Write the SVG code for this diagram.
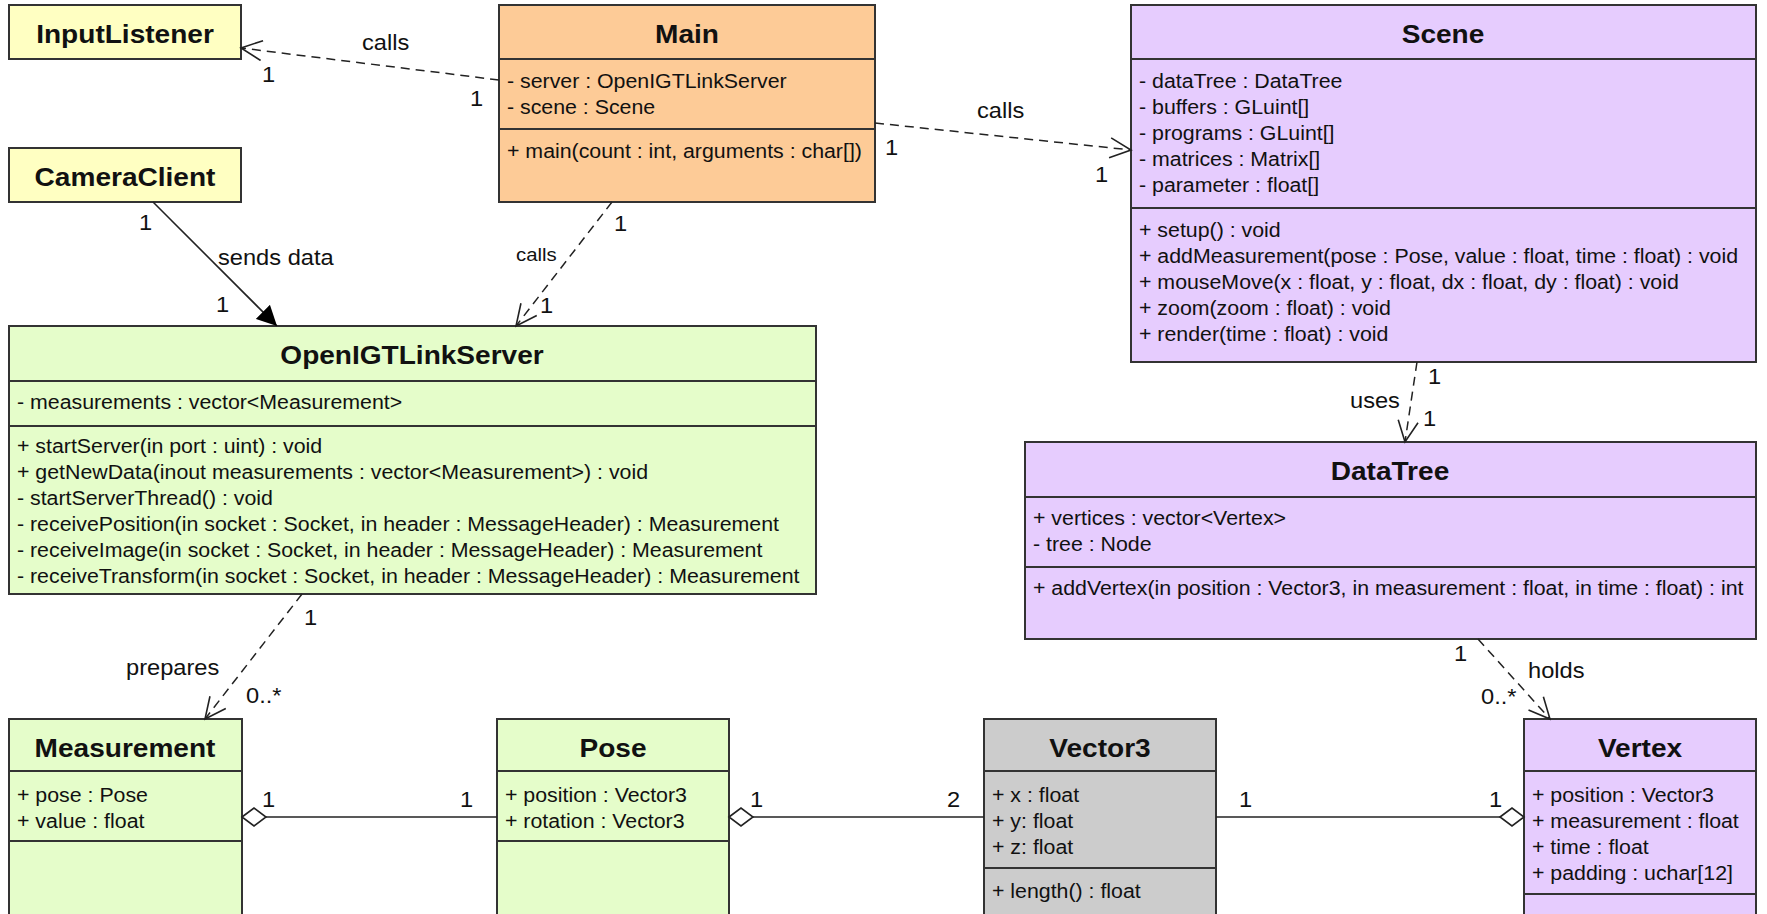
<svg xmlns="http://www.w3.org/2000/svg" width="1767" height="914" viewBox="0 0 1767 914">
<style>
text{font-family:"Liberation Sans",Arial,Helvetica,sans-serif;fill:#111}
.box{stroke:#333;stroke-width:2}
.sep{stroke:#333;stroke-width:2}
.yel{fill:#FFFFC2}
.org{fill:#FDCB97}
.lav{fill:#E6CCFE}
.grn{fill:#E5FDCA}
.gry{fill:#CCCCCC}
.t{font-size:25.5px;font-weight:bold;text-anchor:middle}
.a{font-size:19.4px}
.l{font-size:21.5px}
.ls{font-size:18.5px}
.dash{stroke:#222;stroke-width:1.5;stroke-dasharray:9 6;fill:none}
.solid{stroke:#222;stroke-width:1.6;fill:none}
.dia{fill:#fff;stroke:#222;stroke-width:1.6}
</style>
<defs>
<marker id="open" viewBox="0 0 24 22" refX="22" refY="11" markerWidth="24" markerHeight="22" orient="auto" markerUnits="userSpaceOnUse">
<path d="M1,1 L22,11 L1,21" fill="none" stroke="#222" stroke-width="1.6"/>
</marker>
<marker id="filled" viewBox="0 0 20 20" refX="20" refY="10" markerWidth="20" markerHeight="20" orient="auto" markerUnits="userSpaceOnUse">
<path d="M0,0 L20,10 L0,20 Z" fill="#000"/>
</marker>
</defs>
<rect width="1767" height="914" fill="#fff"/>

<g id="InputListener">
<rect class="box yel" x="9" y="5" width="232" height="54"/>
<text class="t" transform="matrix(1.1 0 0 1 125 43)">InputListener</text>
</g>

<g id="CameraClient">
<rect class="box yel" x="9" y="148" width="232" height="54"/>
<text class="t" transform="matrix(1.1 0 0 1 125 186)">CameraClient</text>
</g>

<g id="Main">
<rect class="box org" x="499" y="5" width="376" height="197"/>
<line class="sep" x1="499" y1="59" x2="875" y2="59"/>
<line class="sep" x1="499" y1="129" x2="875" y2="129"/>
<text class="t" transform="matrix(1.1 0 0 1 687 43)">Main</text>
<text class="a" transform="matrix(1.1 0 0 1 507 0)"><tspan x="0" y="88">- server : OpenIGTLinkServer</tspan><tspan x="0" y="114">- scene : Scene</tspan><tspan x="0" y="158">+ main(count : int, arguments : char[])</tspan></text>
</g>

<g id="Scene">
<rect class="box lav" x="1131" y="5" width="625" height="357"/>
<line class="sep" x1="1131" y1="59" x2="1756" y2="59"/>
<line class="sep" x1="1131" y1="208" x2="1756" y2="208"/>
<text class="t" transform="matrix(1.1 0 0 1 1443 43)">Scene</text>
<text class="a" transform="matrix(1.1 0 0 1 1139 0)"><tspan x="0" y="88">- dataTree : DataTree</tspan><tspan x="0" y="114">- buffers : GLuint[]</tspan><tspan x="0" y="140">- programs : GLuint[]</tspan><tspan x="0" y="166">- matrices : Matrix[]</tspan><tspan x="0" y="192">- parameter : float[]</tspan><tspan x="0" y="237">+ setup() : void</tspan><tspan x="0" y="263">+ addMeasurement(pose : Pose, value : float, time : float) : void</tspan><tspan x="0" y="289">+ mouseMove(x : float, y : float, dx : float, dy : float) : void</tspan><tspan x="0" y="315">+ zoom(zoom : float) : void</tspan><tspan x="0" y="341">+ render(time : float) : void</tspan></text>
</g>

<g id="OpenIGTLinkServer">
<rect class="box grn" x="9" y="326" width="807" height="268"/>
<line class="sep" x1="9" y1="381" x2="816" y2="381"/>
<line class="sep" x1="9" y1="426" x2="816" y2="426"/>
<text class="t" transform="matrix(1.1 0 0 1 412 364)">OpenIGTLinkServer</text>
<text class="a" transform="matrix(1.1 0 0 1 17 0)"><tspan x="0" y="409">- measurements : vector&lt;Measurement&gt;</tspan><tspan x="0" y="453">+ startServer(in port : uint) : void</tspan><tspan x="0" y="479">+ getNewData(inout measurements : vector&lt;Measurement&gt;) : void</tspan><tspan x="0" y="505">- startServerThread() : void</tspan><tspan x="0" y="531">- receivePosition(in socket : Socket, in header : MessageHeader) : Measurement</tspan><tspan x="0" y="557">- receiveImage(in socket : Socket, in header : MessageHeader) : Measurement</tspan><tspan x="0" y="583">- receiveTransform(in socket : Socket, in header : MessageHeader) : Measurement</tspan></text>
</g>

<g id="DataTree">
<rect class="box lav" x="1025" y="442" width="731" height="197"/>
<line class="sep" x1="1025" y1="497" x2="1756" y2="497"/>
<line class="sep" x1="1025" y1="567" x2="1756" y2="567"/>
<text class="t" transform="matrix(1.1 0 0 1 1390 480)">DataTree</text>
<text class="a" transform="matrix(1.1 0 0 1 1033 0)"><tspan x="0" y="525">+ vertices : vector&lt;Vertex&gt;</tspan><tspan x="0" y="551">- tree : Node</tspan><tspan x="0" y="595">+ addVertex(in position : Vector3, in measurement : float, in time : float) : int</tspan></text>
</g>

<g id="Measurement">
<rect class="box grn" x="9" y="719" width="233" height="210"/>
<line class="sep" x1="9" y1="771" x2="242" y2="771"/>
<line class="sep" x1="9" y1="841" x2="242" y2="841"/>
<text class="t" transform="matrix(1.1 0 0 1 125 757)">Measurement</text>
<text class="a" transform="matrix(1.1 0 0 1 17 0)"><tspan x="0" y="802">+ pose : Pose</tspan><tspan x="0" y="828">+ value : float</tspan></text>
</g>

<g id="Pose">
<rect class="box grn" x="497" y="719" width="232" height="210"/>
<line class="sep" x1="497" y1="771" x2="729" y2="771"/>
<line class="sep" x1="497" y1="841" x2="729" y2="841"/>
<text class="t" transform="matrix(1.1 0 0 1 613 757)">Pose</text>
<text class="a" transform="matrix(1.1 0 0 1 505 0)"><tspan x="0" y="802">+ position : Vector3</tspan><tspan x="0" y="828">+ rotation : Vector3</tspan></text>
</g>

<g id="Vector3">
<rect class="box gry" x="984" y="719" width="232" height="210"/>
<line class="sep" x1="984" y1="771" x2="1216" y2="771"/>
<line class="sep" x1="984" y1="868" x2="1216" y2="868"/>
<text class="t" transform="matrix(1.1 0 0 1 1100 757)">Vector3</text>
<text class="a" transform="matrix(1.1 0 0 1 992 0)"><tspan x="0" y="802">+ x : float</tspan><tspan x="0" y="828">+ y: float</tspan><tspan x="0" y="854">+ z: float</tspan><tspan x="0" y="898">+ length() : float</tspan></text>
</g>

<g id="Vertex">
<rect class="box lav" x="1524" y="719" width="232" height="210"/>
<line class="sep" x1="1524" y1="771" x2="1756" y2="771"/>
<line class="sep" x1="1524" y1="894" x2="1756" y2="894"/>
<text class="t" transform="matrix(1.1 0 0 1 1640 757)">Vertex</text>
<text class="a" transform="matrix(1.1 0 0 1 1532 0)"><tspan x="0" y="802">+ position : Vector3</tspan><tspan x="0" y="828">+ measurement : float</tspan><tspan x="0" y="854">+ time : float</tspan><tspan x="0" y="880">+ padding : uchar[12]</tspan></text>
</g>

<g id="connectors">
<line class="dash" x1="499" y1="80" x2="241" y2="48" marker-end="url(#open)"/>
<line class="dash" x1="875" y1="123" x2="1131" y2="150" marker-end="url(#open)"/>
<line class="solid" x1="153" y1="202" x2="277" y2="326" marker-end="url(#filled)"/>
<line class="dash" x1="612" y1="202" x2="516" y2="326" marker-end="url(#open)"/>
<line class="dash" x1="302" y1="594" x2="205" y2="719" marker-end="url(#open)"/>
<line class="dash" x1="1417" y1="362" x2="1405" y2="442" marker-end="url(#open)"/>
<line class="dash" x1="1478" y1="639" x2="1550" y2="719" marker-end="url(#open)"/>
<line class="solid" x1="266" y1="817" x2="497" y2="817"/>
<polygon class="dia" points="242,817 254,808 266,817 254,826"/>
<line class="solid" x1="753" y1="817" x2="984" y2="817"/>
<polygon class="dia" points="729,817 741,808 753,817 741,826"/>
<line class="solid" x1="1216" y1="817" x2="1500" y2="817"/>
<polygon class="dia" points="1500,817 1512,808 1524,817 1512,826"/>

<text class="l" transform="matrix(1.1 0 0 1 362 50)">calls</text>
<text class="l" transform="matrix(1.1 0 0 1 262 82)">1</text>
<text class="l" transform="matrix(1.1 0 0 1 470 106)">1</text>
<text class="l" transform="matrix(1.1 0 0 1 977 118)">calls</text>
<text class="l" transform="matrix(1.1 0 0 1 885 155)">1</text>
<text class="l" transform="matrix(1.1 0 0 1 1095 182)">1</text>
<text class="l" transform="matrix(1.1 0 0 1 139 230)">1</text>
<text class="l" transform="matrix(1.1 0 0 1 218 265)">sends data</text>
<text class="l" transform="matrix(1.1 0 0 1 216 312)">1</text>
<text class="l" transform="matrix(1.1 0 0 1 614 231)">1</text>
<text class="ls" transform="matrix(1.1 0 0 1 516 261)">calls</text>
<text class="l" transform="matrix(1.1 0 0 1 540 313)">1</text>
<text class="l" transform="matrix(1.1 0 0 1 304 625)">1</text>
<text class="l" transform="matrix(1.1 0 0 1 126 675)">prepares</text>
<text class="l" transform="matrix(1.1 0 0 1 246 703)">0..*</text>
<text class="l" transform="matrix(1.1 0 0 1 1428 384)">1</text>
<text class="l" transform="matrix(1.1 0 0 1 1350 408)">uses</text>
<text class="l" transform="matrix(1.1 0 0 1 1423 426)">1</text>
<text class="l" transform="matrix(1.1 0 0 1 1454 661)">1</text>
<text class="l" transform="matrix(1.1 0 0 1 1528 678)">holds</text>
<text class="l" transform="matrix(1.1 0 0 1 1481 704)">0..*</text>
<text class="l" transform="matrix(1.1 0 0 1 262 807)">1</text>
<text class="l" transform="matrix(1.1 0 0 1 460 807)">1</text>
<text class="l" transform="matrix(1.1 0 0 1 750 807)">1</text>
<text class="l" transform="matrix(1.1 0 0 1 947 807)">2</text>
<text class="l" transform="matrix(1.1 0 0 1 1239 807)">1</text>
<text class="l" transform="matrix(1.1 0 0 1 1489 807)">1</text>
</g>
</svg>
